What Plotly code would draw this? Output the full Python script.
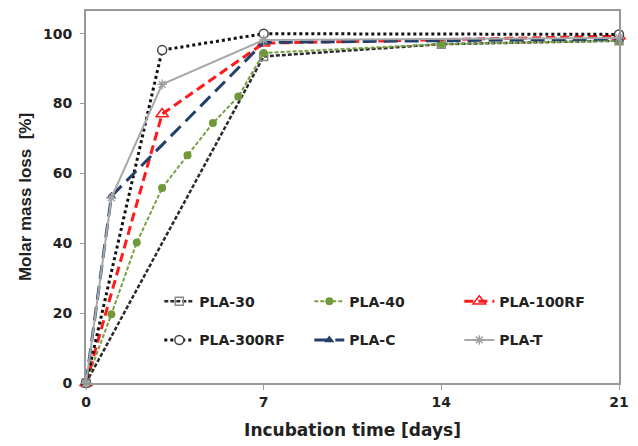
import plotly.graph_objects as go

days_30 = [0, 7, 14, 21]
pla_30 = [0, 93.5, 97, 98]
days_40 = [0, 1, 2, 3, 4, 5, 6, 7, 14, 21]
pla_40 = [0, 19.7, 40.2, 55.8, 65.2, 74.4, 82, 94.5, 97, 98]
days_100 = [0, 3, 7, 21]
pla_100 = [0, 77, 97.3, 99.3]
days_300 = [0, 3, 7, 21]
pla_300 = [0, 95.3, 100, 99.8]
days_c = [0, 1, 7, 21]
pla_c = [0, 53.5, 97.5, 98.5]
days_t = [0, 1, 3, 7, 21]
pla_t = [0, 53, 85.5, 98.2, 98.8]

x_ticks = [0, 7, 14, 21]
y_ticks = [0, 20, 40, 60, 80, 100]

WIDE = "DejaVu Sans, Verdana, sans-serif"
NARROW = "Liberation Sans, Arial, sans-serif"
TXT = "#222222"

fig = go.Figure()
fig.add_trace(go.Scatter(x=days_30, y=pla_30, name="PLA-30", mode="lines+markers",
    line=dict(color="#2a2a2a", width=2.5, dash="4px,2px"),
    marker=dict(symbol="square-open", size=8, color="#888888", line=dict(width=1.5)),
    cliponaxis=False, legend="legend"))
fig.add_trace(go.Scatter(x=days_40, y=pla_40, name="PLA-40", mode="lines+markers",
    line=dict(color="#78a040", width=2, dash="4px,2px"),
    marker=dict(symbol="circle", size=8, color="#70993a"),
    cliponaxis=False, legend="legend"))
fig.add_trace(go.Scatter(x=days_100, y=pla_100, name="PLA-100RF", mode="lines+markers",
    line=dict(color="#ff1a1a", width=3, dash="9px,5px"),
    marker=dict(symbol="triangle-up-open", size=11, color="#ff1a1a", line=dict(width=1.5)),
    cliponaxis=False, legend="legend"))
fig.add_trace(go.Scatter(x=days_300, y=pla_300, name="PLA-300RF", mode="lines+markers",
    line=dict(color="#111111", width=3, dash="dot"),
    marker=dict(symbol="circle", size=9, color="white", line=dict(width=1.5, color="#444444")),
    cliponaxis=False, legend="legend2"))
fig.add_trace(go.Scatter(x=days_c, y=pla_c, name="PLA-C", mode="lines+markers",
    line=dict(color="#23406a", width=3, dash="14px,7px"),
    marker=dict(symbol="triangle-up", size=9, color="#23406a"),
    cliponaxis=False, legend="legend2"))
fig.add_trace(go.Scatter(x=days_t, y=pla_t, name="PLA-T", mode="lines+markers",
    line=dict(color="#a8a8a8", width=2),
    marker=dict(symbol="asterisk-open", size=8, color="#a0a0a0", line=dict(width=1.5, color="#a0a0a0")),
    cliponaxis=False, legend="legend2"))

legend_common = dict(orientation="h", bgcolor="rgba(0,0,0,0)", entrywidth=105,
    font=dict(family=WIDE, size=14, color=TXT, weight="bold"),
    xanchor="left", yanchor="middle", xref="paper", yref="paper")

fig.update_layout(
    width=638, height=446,
    margin=dict(l=86, r=14, t=9, b=62),
    paper_bgcolor="white", plot_bgcolor="white",
    font=dict(family=NARROW, color=TXT),
    showlegend=True,
    legend=dict(x=(160 - 86) / 538, y=(384 - 302) / 375, **legend_common),
    legend2=dict(x=(160 - 86) / 538, y=(384 - 341) / 375, **legend_common),
    xaxis=dict(range=[0, 21], tickvals=x_ticks, ticktext=[str(v) for v in x_ticks],
        showgrid=False, zeroline=False, showline=True, linecolor="#999999", linewidth=2,
        mirror=True, ticks="outside", ticklen=5, tickcolor="#999999",
        tickfont=dict(family=WIDE, size=14, weight="bold", color=TXT),
        title=dict(text="Incubation time [days]", font=dict(family=WIDE, size=17, weight="bold", color=TXT), standoff=15)),
    yaxis=dict(range=[0, 106.5], tickvals=y_ticks, ticktext=[str(v) for v in y_ticks],
        showgrid=False, zeroline=False, showline=True, linecolor="#999999", linewidth=2,
        mirror=True, ticks="outside", ticklen=4, tickcolor="#999999", ticklabelstandoff=5,
        tickfont=dict(family=WIDE, size=14, weight="bold", color=TXT),
        title=dict(text="Molar mass loss  [%]", font=dict(family=NARROW, size=17, weight="bold", color=TXT), standoff=7)),
)

fig.write_html("out.html", config={"displayModeBar": False},
               post_script="document.body.style.margin='0';")
